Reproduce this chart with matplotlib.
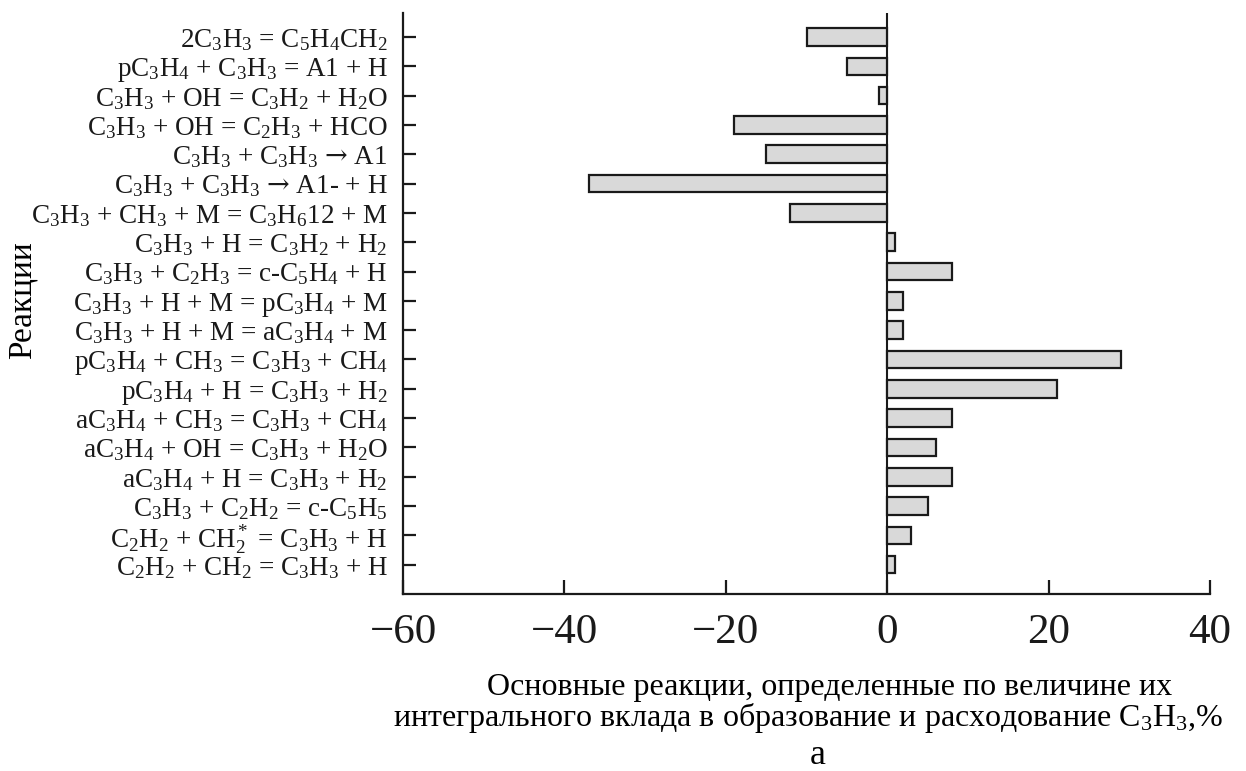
import matplotlib
matplotlib.use("Agg")
from matplotlib import pyplot as plt

plt.rcParams['font.family'] = ['Liberation Serif', 'DejaVu Serif']
plt.rcParams['mathtext.fontset'] = 'custom'
plt.rcParams['mathtext.rm'] = 'Liberation Serif'
plt.rcParams['mathtext.it'] = 'Liberation Serif:italic'
plt.rcParams['mathtext.bf'] = 'Liberation Serif:bold'
plt.rcParams['mathtext.sf'] = 'DejaVu Serif'

ARROW = "$\\mathsf{→}$"

reactions = [
    "2C$_3$H$_3$ = C$_5$H$_4$CH$_2$",
    "pC$_3$H$_4$ + C$_3$H$_3$ = A1 + H",
    "C$_3$H$_3$ + OH = C$_3$H$_2$ + H$_2$O",
    "C$_3$H$_3$ + OH = C$_2$H$_3$ + HCO",
    "C$_3$H$_3$ + C$_3$H$_3$ " + ARROW + " A1",
    "C$_3$H$_3$ + C$_3$H$_3$ " + ARROW + " A1- + H",
    "C$_3$H$_3$ + CH$_3$ + M = C$_3$H$_6$12 + M",
    "C$_3$H$_3$ + H = C$_3$H$_2$ + H$_2$",
    "C$_3$H$_3$ + C$_2$H$_3$ = c-C$_5$H$_4$ + H",
    "C$_3$H$_3$ + H + M = pC$_3$H$_4$ + M",
    "C$_3$H$_3$ + H + M = aC$_3$H$_4$ + M",
    "pC$_3$H$_4$ + CH$_3$ = C$_3$H$_3$ + CH$_4$",
    "pC$_3$H$_4$ + H = C$_3$H$_3$ + H$_2$",
    "aC$_3$H$_4$ + CH$_3$ = C$_3$H$_3$ + CH$_4$",
    "aC$_3$H$_4$ + OH = C$_3$H$_3$ + H$_2$O",
    "aC$_3$H$_4$ + H = C$_3$H$_3$ + H$_2$",
    "C$_3$H$_3$ + C$_2$H$_2$ = c-C$_5$H$_5$",
    "C$_2$H$_2$ + CH$_2^*$ = C$_3$H$_3$ + H",
    "C$_2$H$_2$ + CH$_2$ = C$_3$H$_3$ + H",
]
contrib = [-10, -5, -1, -19, -15, -37, -12, 1, 8, 2, 2, 29, 21, 8, 6, 8, 5, 3, 1]
xticks = [-60, -40, -20, 0, 20, 40]

fig = plt.figure(figsize=(12.46, 7.71), dpi=100)
ax = fig.add_axes([403 / 1246, 1 - 594 / 771, (1210 - 403) / 1246, (594 - 13) / 771])

ypos = list(range(len(reactions)))
ax.barh(ypos, contrib, height=0.6, color="#d9d9d9", edgecolor="#1a1a1a", linewidth=1.6)
ax.axvline(0, color="#1a1a1a", linewidth=1.5, zorder=0.5)

ax.set_xlim(-60, 40)
ax.set_ylim(19, -0.82)
ax.set_xticks(xticks)
ax.set_xticklabels([f"{v}".replace("-", "\u2212") for v in xticks], fontsize=31)
ax.set_yticks(ypos)
ax.set_yticklabels(reactions, fontsize=19.5)

for s in ["top", "right"]:
    ax.spines[s].set_visible(False)
for s in ["left", "bottom"]:
    ax.spines[s].set_linewidth(1.6)
    ax.spines[s].set_color("#1a1a1a")
ax.tick_params(axis="y", direction="in", length=9, width=1.6, pad=11, colors="#1a1a1a")
ax.tick_params(axis="x", direction="in", length=10, width=1.6, pad=14, colors="#1a1a1a")

fig.text(22 / 1246, 1 - 300 / 771, "Реакции", rotation=90, ha="center", va="center", fontsize=24)
fig.text(830 / 1246, 1 - 687 / 771, "Основные реакции, определенные по величине их",
         ha="center", va="center", fontsize=23)
fig.text(808 / 1246, 1 - 718 / 771, "интегрального вклада в образование и расходование C$_3$H$_3$,%",
         ha="center", va="center", fontsize=23)
fig.text(818 / 1246, 1 - 756 / 771, "а", ha="center", va="center", fontsize=26)

fig.savefig("out.png", dpi=100)
